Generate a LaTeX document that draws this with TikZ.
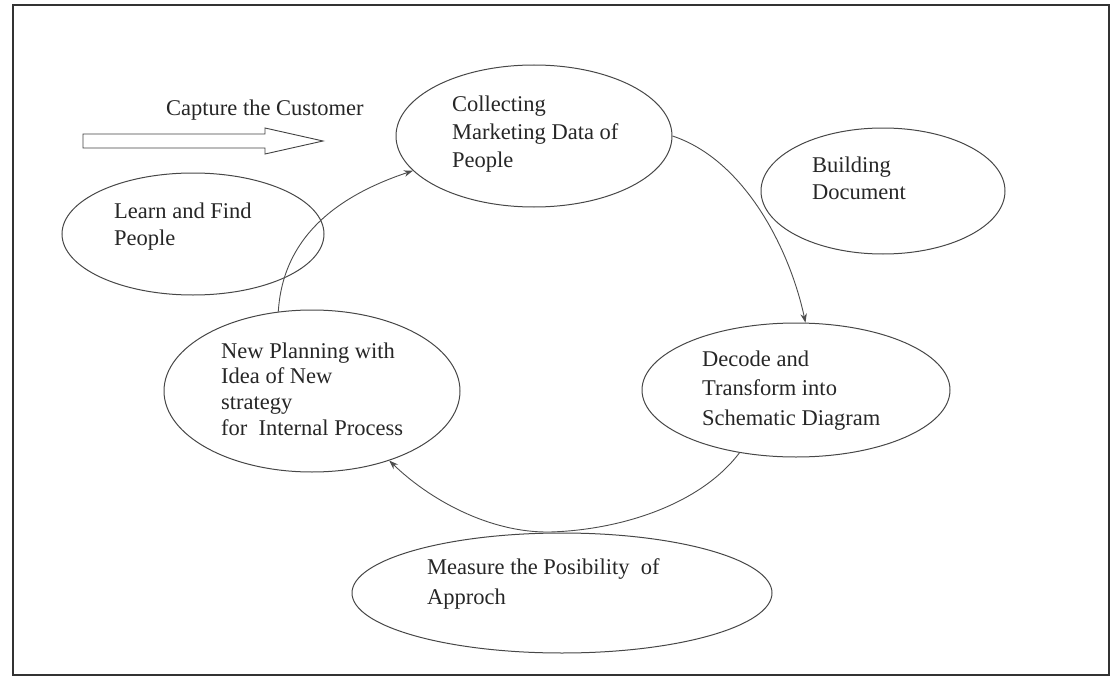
\documentclass[tikz,border=0pt]{standalone}
\usepackage{fontspec}
\setmainfont{Liberation Serif}
\usetikzlibrary{arrows.meta,shapes.geometric}
\newcommand\txtlines[2]{\vtop{\baselineskip=#1\lineskiplimit=-1000pt\lineskip=0pt #2}}
\begin{document}
\begin{tikzpicture}[x=1pt,y=-1pt,
  bubble/.style={draw=black!72, line width=1pt, ellipse, inner sep=0pt},
  lbl/.style={anchor=base west, inner sep=0pt, text=black!85, font=\fontsize{22.5}{27}\selectfont},
  flow/.style={draw=black!70, line width=0.9pt, -{Stealth[length=9pt,width=6.5pt]}},
  frame/.style={draw=black!80, line width=1.4pt},
  blockarrow/.style={draw=black!75, line width=0.9pt},
]
\useasboundingbox (0,0) rectangle (1112,677);
\draw[frame] (13,5) rectangle (1109,675);

% ellipses
\node[bubble, minimum width=276pt, minimum height=142pt] (col) at (534,136) {};
\node[bubble, minimum width=244pt, minimum height=126pt] (bld) at (883,191) {};
\node[bubble, minimum width=262pt, minimum height=122pt] (lrn) at (193,234) {};
\node[bubble, minimum width=296pt, minimum height=162pt] (np)  at (312,391) {};
\node[bubble, minimum width=308pt, minimum height=134pt] (dec) at (796,390) {};
\node[bubble, minimum width=420pt, minimum height=120pt] (mea) at (562,593) {};

% texts
\node[lbl] (tcap) at (166,116) {Capture the Customer};
\node[lbl] (tcol) at (452,111) {\txtlines{28.5pt}{\hbox{Collecting}\hbox{Marketing Data of}\hbox{People}}};
\node[lbl] (tbld) at (812,172) {\txtlines{27pt}{\hbox{Building}\hbox{Document}}};
\node[lbl] (tlrn) at (114,218) {\txtlines{27pt}{\hbox{Learn and Find}\hbox{People}}};
\node[lbl] (tnp)  at (221,358) {\txtlines{25.7pt}{\hbox{New Planning with}\hbox{Idea of New}\hbox{strategy}\hbox{for\ \ Internal Process}}};
\node[lbl] (tdec) at (702,366) {\txtlines{29.5pt}{\hbox{Decode and}\hbox{Transform into}\hbox{Schematic Diagram}}};
\node[lbl] (tmea) at (427,574) {\txtlines{30pt}{\hbox{Measure the Posibility\ \ of}\hbox{Approch}}};

% hollow block arrow
\draw[blockarrow] (83,134) -- (265,134) -- (265,128) -- (323,141) -- (265,154) -- (265,148) -- (83,148) -- cycle;

% connectors
\draw[flow] (np.113) .. controls (283,235) and (340,195) .. (col.196);
\draw[flow] (col.east) .. controls (745,160) and (790,250) .. (dec.82);
\draw[flow] (dec.228) .. controls (700,505) and (620,530) .. (550,532) .. controls (490,533) and (430,500) .. (np.-42);
\end{tikzpicture}
\end{document}
